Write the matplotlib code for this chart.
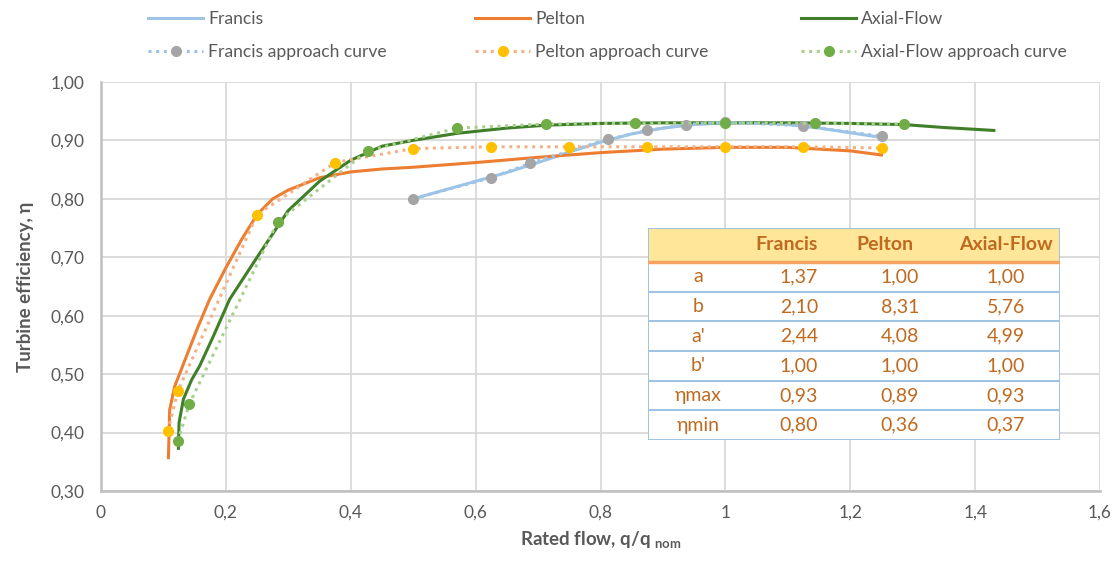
import numpy as np
import matplotlib.pyplot as plt
from matplotlib.patches import Rectangle
from matplotlib.ticker import FuncFormatter

plt.rcParams['font.family'] = ['Lato', 'DejaVu Sans']

# theoretical efficiency curves
francis_q = [0.5, 0.55, 0.6, 0.65, 0.7, 0.75, 0.8, 0.85, 0.9, 0.95, 1.0, 1.05, 1.1, 1.15, 1.2, 1.25]
francis_eta = [0.800, 0.815, 0.830, 0.845, 0.862, 0.880, 0.897, 0.911, 0.921, 0.927, 0.930, 0.930, 0.927, 0.921, 0.913, 0.905]

pelton_q = [0.108, 0.110, 0.118, 0.125, 0.137, 0.155, 0.174, 0.20, 0.225, 0.25, 0.275, 0.30,
            0.35, 0.40, 0.45, 0.50, 0.60, 0.70, 0.80, 0.90, 1.00, 1.10, 1.20, 1.25]
pelton_eta = [0.357, 0.439, 0.479, 0.498, 0.531, 0.580, 0.628, 0.682, 0.730, 0.773, 0.800, 0.815,
              0.836, 0.846, 0.851, 0.854, 0.862, 0.871, 0.879, 0.885, 0.888, 0.888, 0.882, 0.875]

axial_q = [0.124, 0.125, 0.132, 0.145, 0.158, 0.18, 0.206, 0.25, 0.30, 0.35, 0.40, 0.45,
           0.50, 0.57, 0.65, 0.713, 0.80, 0.90, 1.0, 1.10, 1.20, 1.286, 1.35, 1.43]
axial_eta = [0.373, 0.417, 0.457, 0.490, 0.514, 0.565, 0.628, 0.700, 0.780, 0.830, 0.866, 0.890,
             0.900, 0.912, 0.921, 0.926, 0.929, 0.930, 0.930, 0.930, 0.929, 0.927, 0.922, 0.917]

# approach curves (fitted points)
francis_ap_q = [0.5, 0.625, 0.6875, 0.8125, 0.875, 0.9375, 1.0, 1.125, 1.25]
francis_ap_eta = [0.800, 0.836, 0.861, 0.902, 0.917, 0.927, 0.931, 0.925, 0.907]

pelton_ap_q = [0.107, 0.123, 0.25, 0.375, 0.5, 0.625, 0.75, 0.875, 1.0, 1.125, 1.25]
pelton_ap_eta = [0.402, 0.471, 0.773, 0.862, 0.886, 0.889, 0.889, 0.889, 0.889, 0.889, 0.887]

axial_ap_q = [0.123, 0.141, 0.283, 0.427, 0.57, 0.713, 0.856, 1.0, 1.144, 1.286]
axial_ap_eta = [0.385, 0.448, 0.761, 0.882, 0.921, 0.928, 0.929, 0.930, 0.929, 0.928]

# coefficient table
tab_cols = ['Francis', 'Pelton', 'Axial-Flow']
tab_rows = ['a', 'b', "a'", "b'", 'ηmax', 'ηmin']
tab_francis = ['1,37', '2,10', '2,44', '1,00', '0,93', '0,80']
tab_pelton = ['1,00', '8,31', '4,08', '1,00', '0,89', '0,36']
tab_axial = ['1,00', '5,76', '4,99', '1,00', '0,93', '0,37']

fig = plt.figure(figsize=(11.16, 5.65), dpi=100)
ax = fig.add_axes([0.0905, 0.131, 0.8952, 0.724])

l1, = ax.plot(francis_q, francis_eta, color='#9DC3E6', lw=2.2, label='Francis', zorder=3)
l2, = ax.plot(pelton_q, pelton_eta, color='#ED7D31', lw=2.2, label='Pelton', zorder=3)
l3, = ax.plot(axial_q, axial_eta, color='#3F7F27', lw=2.2, label='Axial-Flow', zorder=3)
a1, = ax.plot(francis_ap_q, francis_ap_eta, ls=(0, (1, 1.5)), color='#9DC3E6', lw=2.2,
              marker='o', ms=7, mfc='#A5A5A5', mec='#A5A5A5', label='Francis approach curve', zorder=4)
a2, = ax.plot(pelton_ap_q, pelton_ap_eta, ls=(0, (1, 1.5)), color='#F4B183', lw=2.2,
              marker='o', ms=7, mfc='#FFC000', mec='#FFC000', label='Pelton approach curve', zorder=4)
a3, = ax.plot(axial_ap_q, axial_ap_eta, ls=(0, (1, 1.5)), color='#A9D18E', lw=2.2,
              marker='o', ms=7, mfc='#70AD47', mec='#70AD47', label='Axial-Flow approach curve', zorder=4)


def xfmt(v, p):
    s = f'{v:.1f}'.rstrip('0').rstrip('.')
    return s.replace('.', ',')


ax.set_xlim(0, 1.6)
ax.set_ylim(0.3, 1.0)
ax.set_xticks(np.arange(0, 1.61, 0.2))
ax.set_yticks(np.arange(0.3, 1.001, 0.1))
ax.xaxis.set_major_formatter(FuncFormatter(xfmt))
ax.yaxis.set_major_formatter(FuncFormatter(lambda v, p: f'{v:.2f}'.replace('.', ',')))
ax.grid(True, color='#D9D9D9', lw=1.3)
ax.set_axisbelow(True)
for s in ['top', 'right']:
    ax.spines[s].set_visible(False)
for s in ['left', 'bottom']:
    ax.spines[s].set_color('#BFBFBF')
    ax.spines[s].set_linewidth(1.8)
ax.tick_params(length=0, labelsize=12.5, labelcolor='#595959')
ax.tick_params(axis='y', pad=12)
ax.tick_params(axis='x', pad=10)

ax.set_ylabel('Turbine efficiency, η', fontsize=13.5, fontweight='bold', color='#595959', labelpad=12)
ax.set_xlabel(r'Rated flow, q/q$_{\mathregular{\ nom}}$', fontsize=13.5, fontweight='bold',
              color='#595959', labelpad=6)

# legend: three columns placed separately
leg_x = [148, 475, 801]
pairs = [(l1, a1), (l2, a2), (l3, a3)]
for lx, (h1, h2) in zip(leg_x, pairs):
    fig.legend(handles=[h1, h2], loc='upper left', bbox_to_anchor=(lx / 1116, 1 - 11 / 565),
               frameon=False, fontsize=12.6, labelcolor='#595959', handlelength=3.15,
               labelspacing=0.97, handletextpad=0.3, borderpad=0, borderaxespad=0)

# coefficient table drawn in pixel-like figure units
tx = fig.add_axes([648 / 1116, 1 - 440 / 565, 412 / 1116, 212 / 565])
tx.set_xlim(648, 1060)
tx.set_ylim(440, 228)
tx.axis('off')
txt_c = '#BF6A1E'
tx.add_patch(Rectangle((648, 228), 412, 34, facecolor='#FFE699', edgecolor='none'))
tx.add_patch(Rectangle((648, 262), 412, 178, facecolor='white', edgecolor='none'))
tx.plot([648, 1060], [262, 262], color='#F4A460', lw=2.5)
row_h = 178 / len(tab_rows)
for i in range(1, len(tab_rows)):
    y = 262 + i * row_h
    tx.plot([648, 1060], [y, y], color='#9DC3E6', lw=1.4)
tx.add_patch(Rectangle((648, 228), 412, 212, facecolor='none', edgecolor='#9DC3E6', lw=1.4))
fs = 14
tx.text(818, 245, tab_cols[0], ha='right', va='center', fontsize=fs, fontweight='bold', color=txt_c)
tx.text(885, 245, tab_cols[1], ha='center', va='center', fontsize=fs, fontweight='bold', color=txt_c)
tx.text(1053, 245, tab_cols[2], ha='right', va='center', fontsize=fs, fontweight='bold', color=txt_c)
for i, lab in enumerate(tab_rows):
    y = 262 + (i + 0.5) * row_h
    tx.text(698, y, lab, ha='center', va='center', fontsize=fs, color=txt_c)
    tx.text(818, y, tab_francis[i], ha='right', va='center', fontsize=fs, color=txt_c)
    tx.text(919, y, tab_pelton[i], ha='right', va='center', fontsize=fs, color=txt_c)
    tx.text(1025, y, tab_axial[i], ha='right', va='center', fontsize=fs, color=txt_c)

fig.savefig('out.png', dpi=100, facecolor='white')
